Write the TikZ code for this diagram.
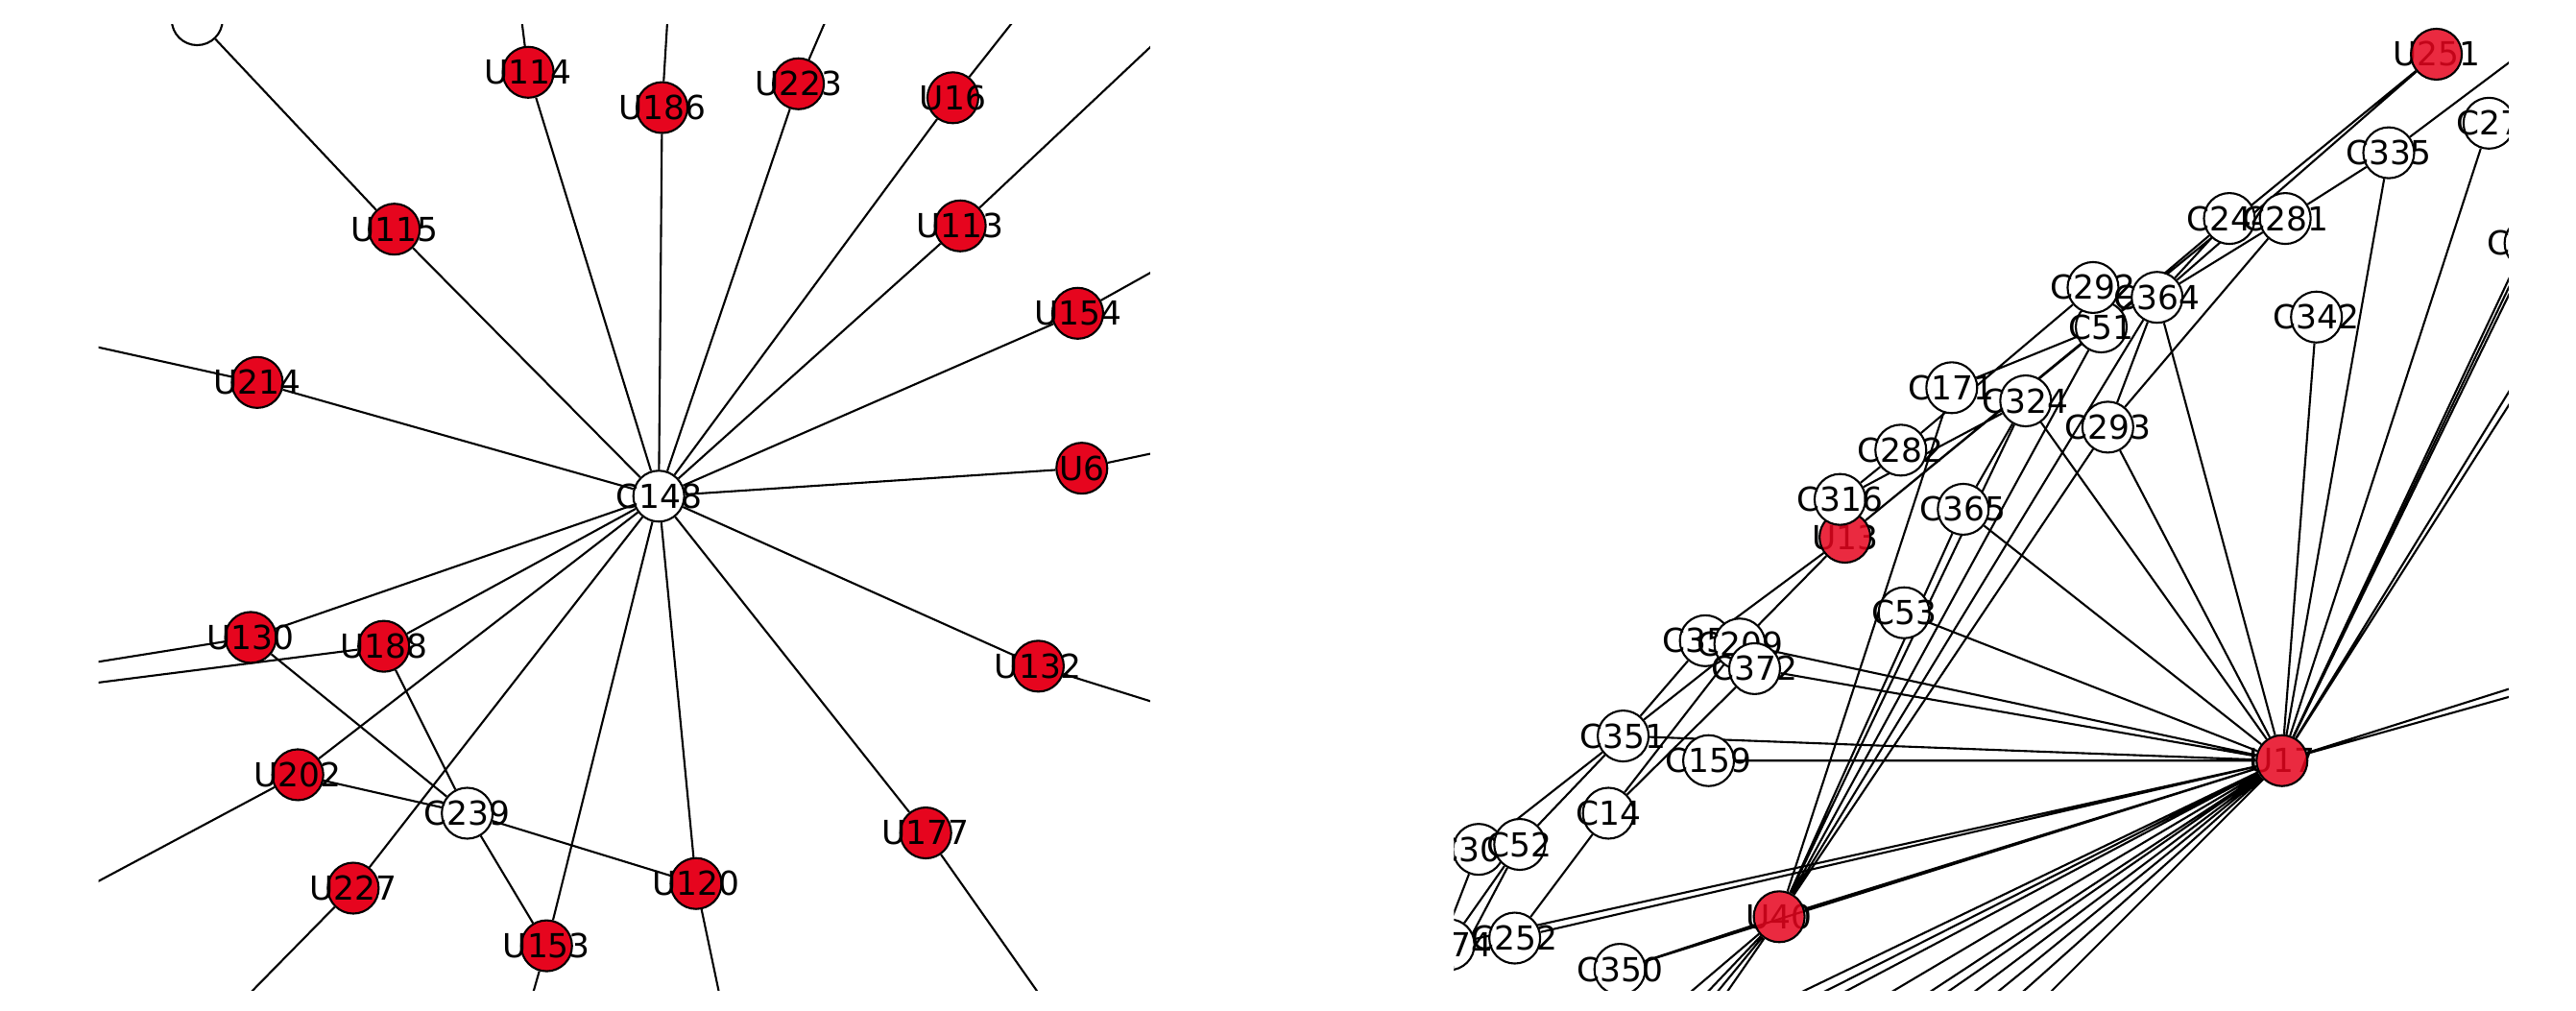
\documentclass[tikz,border=0pt]{standalone}
\usepackage{xcolor}
\usepackage{fontspec}
\setmainfont{DejaVu Sans}
\definecolor{nodered}{RGB}{230,5,30}
\pgfdeclarelayer{edgelayer}
\pgfsetlayers{edgelayer,main}

\begin{document}
\begin{tikzpicture}[x=0.17111mm, y=-0.17111mm, every node/.style={font=\fontsize{9.8}{11}\selectfont},
  wnode/.style={circle, draw, fill=white, line width=0.6pt, minimum size=5.3mm, inner sep=0pt},
  rnode/.style={wnode, fill=nodered},
  conn/.style={line width=0.6pt}]
  \useasboundingbox (0,0) rectangle (1568,615);

  \begin{scope}
    \clip (60,15) rectangle (700,603);
    \coordinate (offU114) at (316,0);
    \coordinate (offU186) at (407,0);
    \coordinate (offU223) at (508,0);
    \coordinate (offU16) at (627,0);
    \coordinate (offU113) at (720,10);
    \coordinate (offU154) at (720,155);
    \coordinate (offU6) at (720,272);
    \coordinate (offU132) at (720,433);
    \coordinate (offU177) at (643,620);
    \coordinate (offU120) at (441,620);
    \coordinate (offU153) at (320,620);
    \coordinate (offU227) at (137,620);
    \coordinate (offU202) at (40,547);
    \coordinate (offU130) at (40,406);
    \coordinate (offU188) at (40,418);
    \coordinate (offU214) at (40,207);
    \node[wnode] (ctl) at (120,12) {};
    \node[wnode, label={center:C148}] (c148) at (401,302) {};
    \node[rnode, label={center:U114}] (u114) at (321.5,44) {};
    \node[rnode, label={center:U186}] (u186) at (403,65.5) {};
    \node[rnode, label={center:U223}] (u223) at (486,51) {};
    \node[rnode, label={center:U16}] (u16) at (580,59.5) {};
    \node[rnode, label={center:U113}] (u113) at (584.5,137.5) {};
    \node[rnode, label={center:U154}] (u154) at (656,190.7) {};
    \node[rnode, label={center:U6}] (u6) at (658.5,285) {};
    \node[rnode, label={center:U115}] (u115) at (240,139.5) {};
    \node[rnode, label={center:U214}] (u214) at (156.6,232.8) {};
    \node[rnode, label={center:U130}] (u130) at (152.6,388) {};
    \node[rnode, label={center:U188}] (u188) at (233.6,393.4) {};
    \node[rnode, label={center:U202}] (u202) at (181.3,471.6) {};
    \node[wnode, label={center:C239}] (c239) at (284.4,495) {};
    \node[rnode, label={center:U227}] (u227) at (215,540.6) {};
    \node[rnode, label={center:U153}] (u153) at (332.7,575.7) {};
    \node[rnode, label={center:U120}] (u120) at (423.7,537.8) {};
    \node[rnode, label={center:U177}] (u177) at (563.5,507) {};
    \node[rnode, label={center:U132}] (u132) at (632,405.5) {};
    \begin{pgfonlayer}{edgelayer}
      \begin{scope}
        \clip (60,15) rectangle (700,603);
        \draw[conn] (c148) -- (u114) (c148) -- (u186) (c148) -- (u223) (c148) -- (u16)
          (c148) -- (u113) (c148) -- (u154) (c148) -- (u115) (c148) -- (u214)
          (c148) -- (u6) (c148) -- (u130) (c148) -- (u188) (c148) -- (u202)
          (c148) -- (u227) (c148) -- (u153) (c148) -- (u120) (c148) -- (u177)
          (c148) -- (u132);
        \draw[conn] (c239) -- (u130) (c239) -- (u188) (c239) -- (u202) (c239) -- (u120) (c239) -- (u153);
        \draw[conn] (u115) -- (ctl) (u114) -- (offU114) (u186) -- (offU186) (u223) -- (offU223)
          (u16) -- (offU16) (u113) -- (offU113) (u154) -- (offU154) (u6) -- (offU6)
          (u132) -- (offU132) (u177) -- (offU177) (u120) -- (offU120) (u153) -- (offU153)
          (u227) -- (offU227) (u202) -- (offU202) (u130) -- (offU130) (u188) -- (offU188)
          (u214) -- (offU214);
      \end{scope}
    \end{pgfonlayer}
  \end{scope}

  \begin{scope}
    \clip (885,15) rectangle (1527,603);
    \coordinate (offTR) at (1550,21);
    \coordinate (offHa) at (1560,100);
    \coordinate (offHb) at (1560,112);
    \coordinate (offHc) at (1560,185);
    \coordinate (offHd) at (1560,195);
    \coordinate (offHr1) at (1560,409);
    \coordinate (offHr2) at (1560,415);
    \coordinate (offHf1) at (1063,620);
    \coordinate (offHf2) at (1078,620);
    \coordinate (offHf3) at (1092,620);
    \coordinate (offHf4) at (1124,620);
    \coordinate (offHf5) at (1150,620);
    \coordinate (offHf6) at (1162,620);
    \coordinate (offHf7) at (1180,620);
    \coordinate (offHf8) at (1196,620);
    \coordinate (offHf9) at (1213,620);
    \coordinate (offHf10) at (1232,620);
    \coordinate (offUf1) at (1010,620);
    \coordinate (offUf2) at (1024,620);
    \coordinate (offUf3) at (1032,620);
    \coordinate (offUf4) at (1040,620);
    \coordinate (offB1) at (869,620);
    \coordinate (offB2) at (860,620);
    \node (u251l) at (1483,33) {U251};
    \node[rnode, fill opacity=0.85] (u251) at (1483,33) {};
    \node[wnode, label={center:C27}] (c27) at (1515,75) {};
    \node[wnode, label={center:C306}] (c306) at (1540,148) {};
    \node[wnode, label={center:C335}] (c335) at (1454,93) {};
    \node[wnode, label={center:C244}] (c244) at (1357,133) {};
    \node[wnode, label={center:C281}] (c281) at (1391,133) {};
    \node[wnode, label={center:C51}] (c51) at (1279,199) {};
    \node[wnode, label={center:C292}] (c292) at (1274,175) {};
    \node[wnode, label={center:C364}] (c364) at (1313,181) {};
    \node[wnode, label={center:C342}] (c342) at (1410,193) {};
    \node[wnode, label={center:C171}] (c171) at (1188,236) {};
    \node[wnode, label={center:C324}] (c324) at (1233,244) {};
    \node[wnode, label={center:C293}] (c293) at (1283,260) {};
    \node[wnode, label={center:C282}] (c282) at (1157,274) {};
    \node (u13l) at (1123,327) {U13};
    \node[rnode, fill opacity=0.85] (u13) at (1123,327) {};
    \node[wnode, label={center:C316}] (c316) at (1120,304) {};
    \node[wnode, label={center:C365}] (c365) at (1195,310) {};
    \node[wnode, label={center:C53}] (c53) at (1159,373) {};
    \node[wnode, label={center:C357}] (c357) at (1038,390) {};
    \node[wnode, label={center:C209}] (c209) at (1059,392) {};
    \node[wnode, label={center:C372}] (c372) at (1068,407) {};
    \node[wnode, label={center:C351}] (c351) at (988,448) {};
    \node[wnode, label={center:C159}] (c159) at (1040,463) {};
    \node[wnode, label={center:C14}] (c14) at (979,495) {};
    \node[wnode, label={center:C305}] (c305) at (900,517) {};
    \node[wnode, label={center:C52}] (c52) at (925,514) {};
    \node[wnode, label={center:C274}] (c274) at (882,575) {};
    \node[wnode, label={center:C252}] (c252) at (922,571) {};
    \node[wnode, label={center:C350}] (c350) at (986,590) {};
    \node (u40l) at (1083,558) {U40};
    \node[rnode, fill opacity=0.85] (u40) at (1083,558) {};
    \node (u17l) at (1389,463) {U17};
    \node[rnode, fill opacity=0.85] (u17) at (1389,463) {};
    \begin{pgfonlayer}{edgelayer}
      \begin{scope}
        \clip (885,15) rectangle (1527,603);
        \draw[conn] (u17) -- (c27) (u17) -- (c306) (u17) -- (c335) (u17) -- (c342) (u17) -- (c364)
          (u17) -- (c324) (u17) -- (c293) (u17) -- (c365) (u17) -- (c53) (u17) -- (c372)
          (u17) -- (c209) (u17) -- (c351) (u17) -- (c159) (u17) -- (c252) (u17) -- (c274)
          (u17) -- (u40) (u17) -- (c350);
        \draw[conn] (u17) -- (offHa) (u17) -- (offHb) (u17) -- (offHc) (u17) -- (offHd)
          (u17) -- (offHr1) (u17) -- (offHr2)
          (u17) -- (offHf1) (u17) -- (offHf2) (u17) -- (offHf3) (u17) -- (offHf4) (u17) -- (offHf5)
          (u17) -- (offHf6) (u17) -- (offHf7) (u17) -- (offHf8) (u17) -- (offHf9) (u17) -- (offHf10);
        \draw[conn] (u40) -- (c171) (u40) -- (c324) (u40) -- (c51) (u40) -- (c364) (u40) -- (c293)
          (u40) -- (c365) (u40) -- (c350)
          (u40) -- (offUf1) (u40) -- (offUf2) (u40) -- (offUf3) (u40) -- (offUf4);
        \draw[conn] (u251) -- (u13) (u251) -- (c364) (offTR) -- (c335) (c335) -- (c281)
          (c281) -- (c364) (c281) -- (c293) (c244) -- (c364) (c244) -- (c51)
          (c292) -- (c282) (c51) -- (u13) (c364) -- (c293) (c171) -- (c51)
          (c324) -- (c316) (c365) -- (c324) (c282) -- (c316);
        \draw[conn] (u13) -- (c357) (u13) -- (c209) (c357) -- (c351) (c209) -- (c351)
          (c351) -- (c52) (c351) -- (c305) (c209) -- (c14) (c372) -- (c14) (c14) -- (c252)
          (c52) -- (c274) (c52) -- (offB1) (c305) -- (offB2);
      \end{scope}
    \end{pgfonlayer}
  \end{scope}
\end{tikzpicture}
\end{document}
